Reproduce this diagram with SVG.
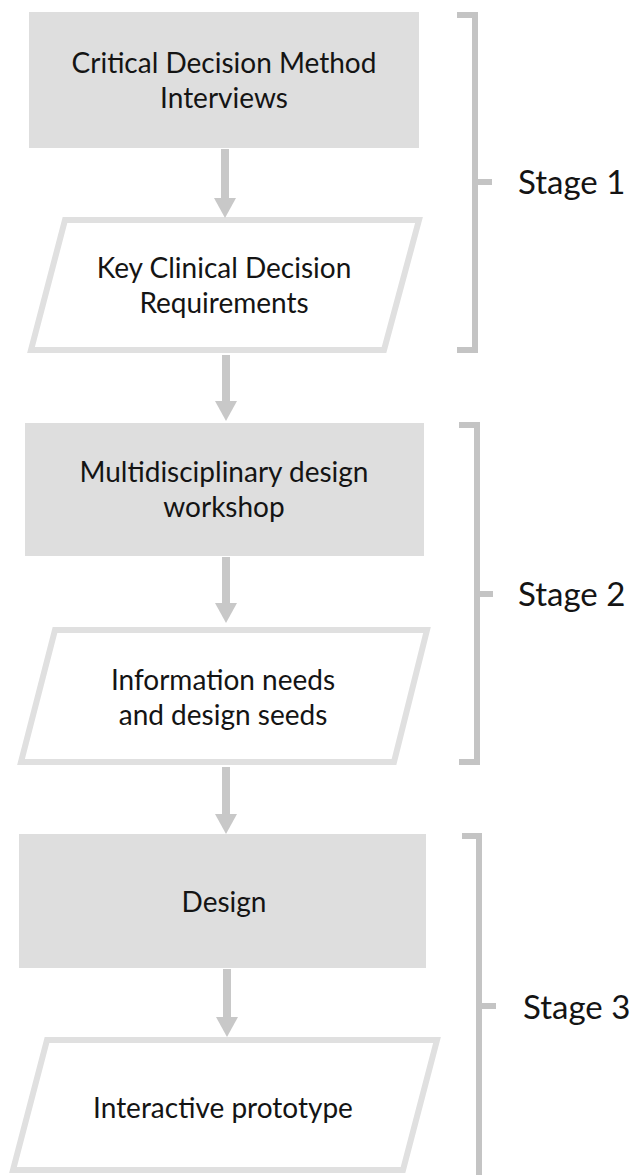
<svg xmlns="http://www.w3.org/2000/svg" width="632" height="1175" viewBox="0 0 632 1175">
<style>
  .box { fill: #dedede; stroke: none; }
  .para { fill: #ffffff; stroke: #e0e0e0; stroke-width: 6; stroke-linejoin: miter; }
  .lbl { font-family: Lato, "Liberation Sans", sans-serif; font-size: 28px; fill: #141414; text-anchor: middle; }
  .stage { font-family: Lato, "Liberation Sans", sans-serif; font-size: 33px; fill: #141414; }
  .conn { stroke: #c8c8c8; stroke-width: 8; fill: none; }
  .brk { stroke: #c4c4c4; stroke-width: 6; fill: none; stroke-linejoin: miter; }
</style>
<defs>
  <marker id="ah" markerUnits="userSpaceOnUse" viewBox="0 0 20 22" markerWidth="20" markerHeight="22" refX="0" refY="11" orient="auto">
    <path d="M0,0 L20,11 L0,22 Z" fill="#c8c8c8"/>
  </marker>
</defs>
<rect width="632" height="1175" fill="#ffffff"/>

<g id="n1">
  <rect class="box" x="29" y="12" width="390" height="136"/>
  <text class="lbl" x="224" y="73">Critical Decision Method</text>
  <text class="lbl" x="224" y="108">Interviews</text>
</g>
<g id="n2">
  <path class="para" d="M65,220 L419,220 L384,350 L31,350 Z"/>
  <text class="lbl" x="224" y="278">Key Clinical Decision</text>
  <text class="lbl" x="224" y="313">Requirements</text>
</g>
<g id="n3">
  <rect class="box" x="25" y="423" width="399" height="133"/>
  <text class="lbl" x="224" y="482">Multidisciplinary design</text>
  <text class="lbl" x="224" y="517">workshop</text>
</g>
<g id="n4">
  <path class="para" d="M55,630 L427,630 L394,762 L21,762 Z"/>
  <text class="lbl" x="223" y="690">Information needs</text>
  <text class="lbl" x="223" y="725">and design seeds</text>
</g>
<g id="n5">
  <rect class="box" x="19" y="834" width="407" height="134"/>
  <text class="lbl" x="224" y="912">Design</text>
</g>
<g id="n6">
  <path class="para" d="M47,1040 L437,1040 L403,1170 L13,1170 Z"/>
  <text class="lbl" x="223" y="1118">Interactive prototype</text>
</g>

<g id="connectors">
  <line class="conn" x1="225" y1="149" x2="225" y2="198" marker-end="url(#ah)"/>
  <line class="conn" x1="226" y1="355" x2="226" y2="401" marker-end="url(#ah)"/>
  <line class="conn" x1="226" y1="557" x2="226" y2="603" marker-end="url(#ah)"/>
  <line class="conn" x1="226" y1="767" x2="226" y2="814" marker-end="url(#ah)"/>
  <line class="conn" x1="227" y1="969" x2="227" y2="1017" marker-end="url(#ah)"/>
</g>

<g id="stage1">
  <path class="brk" d="M457,15 H475 V350 H457 M475,182 H492"/>
  <text class="stage" x="518" y="194">Stage 1</text>
</g>
<g id="stage2">
  <path class="brk" d="M459,425 H477 V762 H459 M477,594 H493"/>
  <text class="stage" x="518" y="606">Stage 2</text>
</g>
<g id="stage3">
  <path class="brk" d="M462,836 H479 V1180 M479,1006 H496"/>
  <text class="stage" x="523" y="1019">Stage 3</text>
</g>
</svg>
